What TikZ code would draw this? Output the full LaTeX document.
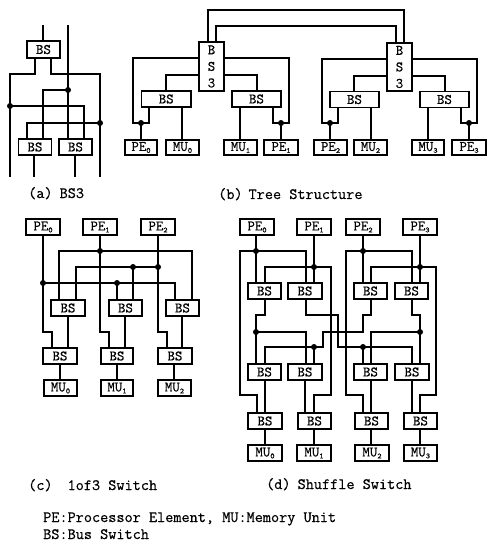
\documentclass[tikz,border=0pt]{standalone}
\usepackage{fontspec}
\setmonofont[FakeBold=0.5]{Latin Modern Mono}
\newcommand\sbs[1]{\raisebox{-2pt}{\fontsize{8}{8}\selectfont #1}}
\tikzset{
  unitbox/.style={draw=black,line width=1.2pt,fill=white,inner sep=0pt,outer sep=0pt,font=\ttfamily\fontsize{14.5}{16.5}\selectfont,align=center},
  jdot/.style={circle,fill=black,inner sep=0pt,minimum size=6pt},
  wire/.style={line width=1.1pt,line join=miter},
  captxt/.style={anchor=base west,inner sep=0pt,font=\ttfamily\fontsize{15.8}{16}\selectfont}
}
\newcommand\bx[6]{%
  \pgfmathsetmacro\cxx{(#2+#4)/2}\pgfmathsetmacro\cyy{(#3+#5)/2}%
  \pgfmathsetmacro\wdd{#4-#2}\pgfmathsetmacro\htt{#5-#3}%
  \node[unitbox,minimum width=\wdd pt,minimum height=\htt pt] (#1) at (\cxx,\cyy) {#6};}
\newcommand\dt[3]{\node[jdot] (#1) at (#2,#3) {};}
\begin{document}
\begin{tikzpicture}[x=1pt,y=-1pt]
\useasboundingbox (0,0) rectangle (487,545);
% ---------- (a)
\coordinate (aIn1) at (43,25);
\coordinate (aIn2) at (68,25);
\coordinate (aOut1) at (10,177);
\coordinate (aOut2) at (34,177);
\coordinate (aOut3) at (75,177);
\coordinate (aOut4) at (100,177);
\bx{aT}{27}{41}{60}{58}{BS}
\bx{aL}{18.5}{139}{51.5}{155}{BS}
\bx{aR}{59}{139}{92}{155}{BS}
\dt{aD1}{68}{90}
\dt{aD2}{10}{106}
\dt{aD3}{100}{123}
\draw[wire] (aIn1) -- (aT.north -| aIn1);
\draw[wire] (aIn2) -- (aR.north -| aIn2);
\draw[wire] (aT.south -| 35,0) |- (aD2 |- 0,74) -- (aOut1);
\draw[wire] (aT.south -| 51,0) |- (aD3 |- 0,74) -- (aOut4);
\draw[wire] (aD1.center) -| (aL.north -| 43,0);
\draw[wire] (aD2.center) -| (aR.north -| 84,0);
\draw[wire] (aD3.center) -| (aL.north -| 27,0);
\draw[wire] (aL.south -| aOut2) -- (aOut2);
\draw[wire] (aR.south -| aOut3) -- (aOut3);
% ---------- (b)
\bx{bT1}{199}{42}{224}{91}{B\\S\\3}
\bx{bT2}{387}{43}{412}{91}{B\\S\\3}
\bx{bB0}{141.5}{91}{191}{107}{BS}
\bx{bB1}{232}{91}{281}{107}{BS}
\bx{bB2}{330}{91.5}{379}{107.5}{BS}
\bx{bB3}{420}{91.5}{469}{107.5}{BS}
\bx{bP0}{125}{140}{157}{155}{PE\sbs{0}}
\bx{bM0}{166}{140}{199}{155}{MU\sbs{0}}
\bx{bM1}{224}{140}{257}{155}{MU\sbs{1}}
\bx{bP1}{264}{140}{298}{155}{PE\sbs{1}}
\bx{bP2}{314}{140}{347}{155}{PE\sbs{2}}
\bx{bM2}{354}{140}{387}{155}{MU\sbs{2}}
\bx{bM3}{412}{140}{444}{155}{MU\sbs{3}}
\bx{bP3}{452}{140}{486}{155}{PE\sbs{3}}
\dt{bD0}{141}{123}
\dt{bD1}{281}{123}
\dt{bD2}{330}{123}
\dt{bD3}{469}{123}
\draw[wire] (bT1.north -| 208,0) |- (404,10) -- (bT2.north -| 404,0);
\draw[wire] (bT1.north -| 216,0) |- (396,26) -- (bT2.north -| 396,0);
\draw[wire] (bT1.west |- 0,58) -| (133,123) -- (bD0.center);
\draw[wire] (bD0.center) -| (bB0.south -| 149,0);
\draw[wire] (bD0.center) -- (bP0.north -| bD0);
\draw[wire] (bT1.west |- 0,75) -| (bB0.north -| 166,0);
\draw[wire] (bB0.south -| 182,0) -- (bM0.north -| 182,0);
\draw[wire] (bT1.east |- 0,58) -| (289,123) -- (bD1.center);
\draw[wire] (bD1.center) -| (bB1.south -| 273,0);
\draw[wire] (bD1.center) -- (bP1.north -| bD1);
\draw[wire] (bT1.east |- 0,75) -| (bB1.north -| 257,0);
\draw[wire] (bB1.south -| 240,0) -- (bM1.north -| 240,0);
\draw[wire] (bT2.west |- 0,59) -| (322,123) -- (bD2.center);
\draw[wire] (bD2.center) -| (bB2.south -| 338,0);
\draw[wire] (bD2.center) -- (bP2.north -| bD2);
\draw[wire] (bT2.west |- 0,76) -| (bB2.north -| 354,0);
\draw[wire] (bB2.south -| 371,0) -- (bM2.north -| 371,0);
\draw[wire] (bT2.east |- 0,59) -| (477,123) -- (bD3.center);
\draw[wire] (bD3.center) -| (bB3.south -| 461,0);
\draw[wire] (bD3.center) -- (bP3.north -| bD3);
\draw[wire] (bT2.east |- 0,76) -| (bB3.north -| 445,0);
\draw[wire] (bB3.south -| 428,0) -- (bM3.north -| 428,0);
% ---------- (c)
\bx{cP0}{26}{219}{60}{235}{PE\sbs{0}}
\bx{cP1}{83}{219}{117}{235}{PE\sbs{1}}
\bx{cP2}{141}{219}{175}{235}{PE\sbs{2}}
\bx{cA0}{51}{300}{85}{316}{BS}
\bx{cA1}{109}{300}{142}{316}{BS}
\bx{cA2}{166}{300}{199}{316}{BS}
\bx{cB0}{43}{348}{77}{364}{BS}
\bx{cB1}{101}{348}{133}{364}{BS}
\bx{cB2}{158}{348}{192}{364}{BS}
\bx{cM0}{44}{380}{77}{396}{MU\sbs{0}}
\bx{cM1}{101}{380}{133}{396}{MU\sbs{1}}
\bx{cM2}{158}{380}{191}{396}{MU\sbs{2}}
\dt{cD0}{43}{283}
\dt{cD1}{100}{251}
\dt{cD2}{158}{267}
\dt{cE0}{117}{283}
\dt{cE1}{133}{267}
\draw[wire] (cP0.south -| cD0) |- (52,332) -- (cB0.north -| 52,0);
\draw[wire] (cP1.south -| cD1) |- (109,332) -- (cB1.north -| 109,0);
\draw[wire] (cP2.south -| cD2) |- (167,332) -- (cB2.north -| 167,0);
\draw[wire] (cD0.center) -| (cA2.north -| 175,0);
\draw[wire] (cE0.center) -- (cA1.north -| cE0);
\draw[wire] (cD1.center) -| (cA0.north -| 59,0);
\draw[wire] (cD1.center) -| (cA2.north -| 192,0);
\draw[wire] (cD2.center) -| (cA0.north -| 76,0);
\draw[wire] (cE1.center) -- (cA1.north -| cE1);
\draw[wire] (cA0.south -| 68,0) -- (cB0.north -| 68,0);
\draw[wire] (cA1.south -| 125,0) -- (cB1.north -| 125,0);
\draw[wire] (cA2.south -| 182,0) -- (cB2.north -| 182,0);
\draw[wire] (cB0.south -| 60,0) -- (cM0.north -| 60,0);
\draw[wire] (cB1.south -| 117,0) -- (cM1.north -| 117,0);
\draw[wire] (cB2.south -| 174,0) -- (cM2.north -| 174,0);
% ---------- (d)
\bx{dP0}{240}{219}{274}{235}{PE\sbs{0}}
\bx{dP1}{297}{219}{331}{235}{PE\sbs{1}}
\bx{dP2}{346}{219}{380}{235}{PE\sbs{2}}
\bx{dP3}{403}{219}{437}{235}{PE\sbs{3}}
\bx{dA0}{248}{283}{281}{299}{BS}
\bx{dA1}{288}{283}{322}{299}{BS}
\bx{dA2}{354}{283}{387}{299}{BS}
\bx{dA3}{395}{283}{428}{299}{BS}
\bx{dB0}{248}{364}{281}{380}{BS}
\bx{dB1}{288}{364}{322}{380}{BS}
\bx{dB2}{354}{364}{387}{380}{BS}
\bx{dB3}{395}{364}{429}{380}{BS}
\bx{dC0}{248}{413}{282}{429}{BS}
\bx{dC1}{298}{413}{331}{429}{BS}
\bx{dC2}{355}{413}{388}{429}{BS}
\bx{dC3}{404}{413}{437}{429}{BS}
\bx{dM0}{248}{445}{282}{461}{MU\sbs{0}}
\bx{dM1}{297}{445}{331}{461}{MU\sbs{1}}
\bx{dM2}{355}{445}{389}{461}{MU\sbs{2}}
\bx{dM3}{404}{445}{437}{461}{MU\sbs{3}}
\dt{dD0}{256}{251}
\dt{dD1}{314}{267}
\dt{dD2}{363}{251}
\dt{dD3}{420}{267}
\dt{dE0}{256}{332}
\dt{dE1}{314}{347}
\dt{dE2}{363}{347}
\dt{dE3}{420}{332}
\draw[wire] (dP0.south -| dD0) -- (dA0.north -| dD0);
\draw[wire] (dP1.south -| dD1) -- (dA1.north -| dD1);
\draw[wire] (dP2.south -| dD2) -- (dA2.north -| dD2);
\draw[wire] (dP3.south -| dD3) -- (dA3.north -| dD3);
\draw[wire] (dD0.center) -| (dA1.north -| 306,0);
\draw[wire] (dD0.center) -| (240,395) -| (dC0.north -| 257,0);
\draw[wire] (dD1.center) -| (dA0.north -| 265,0);
\draw[wire] (dD1.center) -| (331,395) -| (dC1.north -| 314,0);
\draw[wire] (dD2.center) -| (dA3.north -| 412,0);
\draw[wire] (dD2.center) -| (346,395) -| (dC2.north -| 363,0);
\draw[wire] (dD3.center) -| (dA2.north -| 371,0);
\draw[wire] (dD3.center) -| (436,395) -| (dC3.north -| 420,0);
\draw[wire] (dA0.south -| 265,0) |- (256,315) -- (dB0.north -| 256,0);
\draw[wire] (dE0.center) -| (dB1.north -| 306,0);
\draw[wire] (dA1.south -| 306,0) |- (338,315) |- (412,347) -- (dB3.north -| 412,0);
\draw[wire] (dE2.center) -- (dB2.north -| dE2);
\draw[wire] (dA2.south -| 371,0) |- (363,315) |- (323,332) |- (265,347) -- (dB0.north -| 265,0);
\draw[wire] (dE1.center) -- (dB1.north -| dE1);
\draw[wire] (dA3.south -| 412,0) |- (420,315) -- (dB3.north -| 420,0);
\draw[wire] (dE3.center) -| (dB2.north -| 371,0);
\draw[wire] (dB0.south -| 265,0) -- (dC0.north -| 265,0);
\draw[wire] (dB1.south -| 305,0) -- (dC1.north -| 305,0);
\draw[wire] (dB2.south -| 371,0) -- (dC2.north -| 371,0);
\draw[wire] (dB3.south -| 412,0) -- (dC3.north -| 412,0);
\draw[wire] (dC0.south -| 265,0) -- (dM0.north -| 265,0);
\draw[wire] (dC1.south -| 314,0) -- (dM1.north -| 314,0);
\draw[wire] (dC2.south -| 371,0) -- (dM2.north -| 371,0);
\draw[wire] (dC3.south -| 420,0) -- (dM3.north -| 420,0);
% ---------- captions
\node[captxt] (capA) at (28,198) {(a)\hspace{7pt}BS3};
\node[captxt] (capB) at (218,199) {(b)\hspace{6pt}Tree Structure};
\node[captxt] (capC) at (28,490) {(c)\hspace{15pt}1of3 Switch};
\node[captxt] (capD) at (266,489) {(d)\hspace{7pt}Shuffle Switch};
\node[captxt] (capE) at (43,522) {PE:Processor Element, MU:Memory Unit};
\node[captxt] (capF) at (43,539) {BS:Bus Switch};
\end{tikzpicture}
\end{document}
